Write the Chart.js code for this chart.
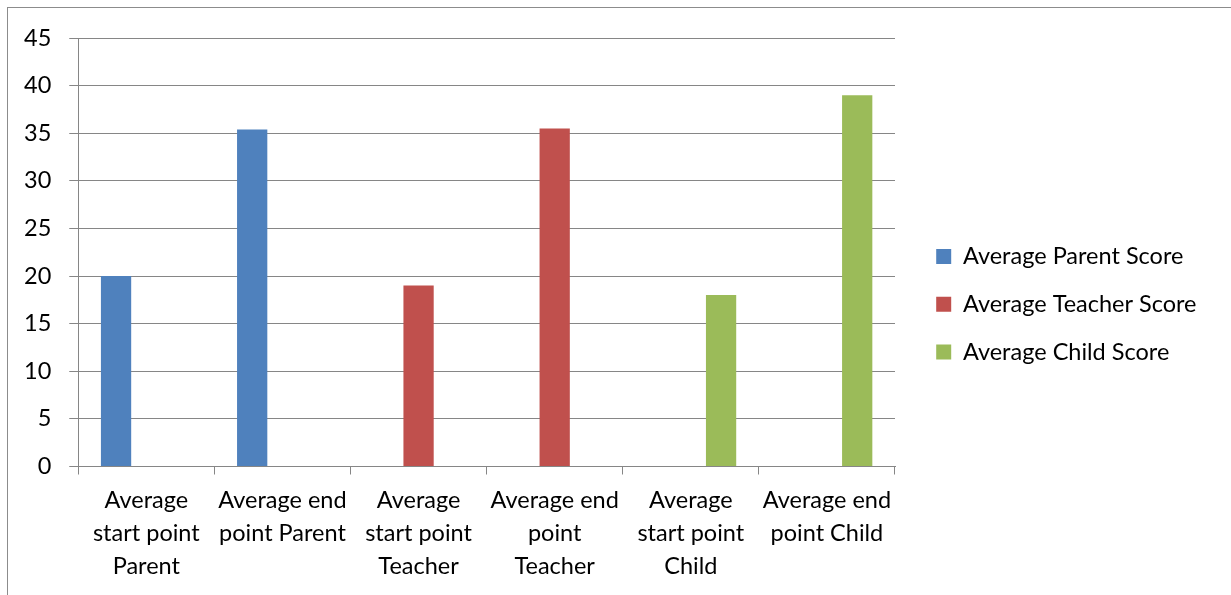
<!DOCTYPE html>
<html>
<head>
<meta charset="utf-8">
<script src="https://cdn.jsdelivr.net/npm/chart.js@4/dist/chart.umd.min.js"></script>
<style>
  html, body { margin: 0; padding: 0; background: #fff; overflow: hidden; }
  #wrap { position: relative; width: 1231px; height: 595px; }
  #frame { position: absolute; left: 7px; top: 7px; width: 1300px; height: 700px;
           border: 1px solid #8c8c8c; box-sizing: border-box; pointer-events: none; }
  canvas { position: absolute; left: 0; top: 0; }
</style>
</head>
<body>
<div id="wrap">
  <canvas id="chart" width="1231" height="595"></canvas>
  <div id="frame"></div>
</div>
<script>
// Category labels (one array entry per line)
const categories = [
  ['Average', 'start point', 'Parent'],
  ['Average end', 'point Parent'],
  ['Average', 'start point', 'Teacher'],
  ['Average end', 'point', 'Teacher'],
  ['Average', 'start point', 'Child'],
  ['Average end', 'point Child']
];

const seriesNames = ['Average Parent Score', 'Average Teacher Score', 'Average Child Score'];

const parentScores  = [20, 35.4, null, null, null, null];
const teacherScores = [null, null, 19, 35.5, null, null];
const childScores   = [null, null, null, null, 18, 39];

const yMin = 0;
const yMax = 45;
const yStep = 5;

const colors = ['#4F81BD', '#C0504D', '#9BBB59'];
const gridColor = '#868686';
const font = { family: 'Lato', size: 23.5, lineHeight: '33px' };

// Fixes the legend column width and nudges it into place
const legendPlacement = {
  id: 'legendPlacement',
  beforeLayout(chart) {
    const lg = chart.legend;
    if (lg && !lg._fixedFit) {
      const fit = lg.fit.bind(lg);
      lg.fit = function () { fit(); this.width = 336; };
      lg._fixedFit = true;
    }
  },
  afterLayout(chart) {
    const lg = chart.legend;
    lg.left += 17; lg.right += 17;
    lg.top -= 11; lg.bottom -= 11;
  }
};

new Chart(document.getElementById('chart'), {
  type: 'bar',
  data: {
    labels: categories,
    datasets: [
      { label: seriesNames[0], data: parentScores,  backgroundColor: colors[0], borderWidth: 0 },
      { label: seriesNames[1], data: teacherScores, backgroundColor: colors[1], borderWidth: 0 },
      { label: seriesNames[2], data: childScores,   backgroundColor: colors[2], borderWidth: 0 }
    ]
  },
  options: {
    responsive: false,
    animation: false,
    devicePixelRatio: 1,
    categoryPercentage: 0.667,
    barPercentage: 1,
    layout: { padding: { left: 6, top: 38, right: 0, bottom: 2.5 } },
    plugins: {
      tooltip: { enabled: false },
      legend: {
        position: 'right',
        align: 'center',
        labels: {
          boxWidth: 15,
          boxHeight: 15,
          padding: 24.2,
          color: '#000',
          font: { family: 'Lato', size: 23.5 }
        }
      }
    },
    scales: {
      x: {
        grid: {
          display: true, offset: true, drawOnChartArea: false, drawTicks: true,
          tickLength: 8, color: gridColor, lineWidth: 1
        },
        border: { display: true, color: gridColor, width: 1 },
        ticks: { color: '#000', font: font, padding: 9.5, maxRotation: 0, autoSkip: false }
      },
      y: {
        min: yMin,
        max: yMax,
        grid: { color: gridColor, lineWidth: 1, tickLength: 9 },
        border: { display: true, color: gridColor, width: 1 },
        ticks: { stepSize: yStep, color: '#000', font: font, padding: 18 }
      }
    }
  },
  plugins: [legendPlacement]
});
</script>
</body>
</html>
